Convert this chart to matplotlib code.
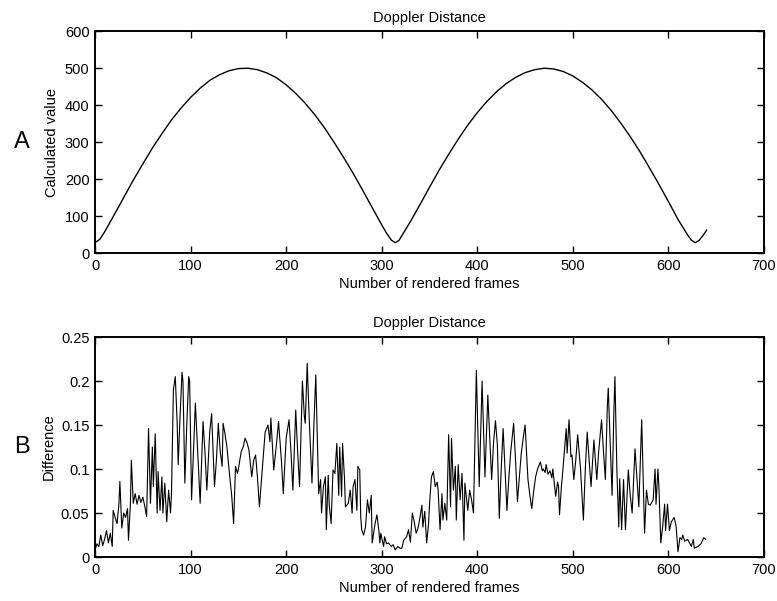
import matplotlib
matplotlib.use("Agg")
import matplotlib.pyplot as plt

plt.rcParams['font.family'] = ['Liberation Sans', 'DejaVu Sans']

# Top panel: calculated Doppler distance
frames_top = [0, 5, 10, 20, 30, 40, 50, 60, 70, 80, 90, 100, 110, 120, 130, 140,
              150, 160, 170, 180, 190, 200, 210, 220, 230, 240, 250, 260, 270,
              280, 290, 300, 305, 310, 314, 318, 322, 330, 340, 350, 360, 370,
              380, 390, 400, 410, 420, 430, 440, 450, 460, 470, 480, 490, 500,
              510, 520, 530, 540, 550, 560, 570, 580, 590, 600, 610, 615, 620,
              624, 628, 632, 636, 640]
calc_value = [28, 37, 57, 103, 150, 197, 241, 284, 323, 360, 392, 421, 446, 467,
              482, 493, 499, 500, 496, 487, 474, 455, 432, 405, 374, 339, 300,
              259, 216, 170, 123, 76, 54, 35, 28, 34, 51, 85, 131, 178, 224, 267,
              308, 346, 380, 410, 436, 458, 475, 488, 496, 500, 498, 491, 479,
              462, 441, 416, 386, 352, 315, 275, 231, 186, 139, 91, 70, 49, 35,
              28, 34, 47, 62]

# Bottom panel: difference
frames_diff = [0, 2, 4, 6, 8, 10, 12, 14, 16, 18, 19, 21, 23, 25, 26, 28, 30, 32,
               34, 35, 37, 38, 40, 42, 44, 46, 48, 50, 52, 54, 56, 58, 60, 61, 63,
               65, 66, 68, 70, 71, 73, 75, 77, 79, 80, 82, 84, 86, 87, 89, 91, 92,
               94, 96, 98, 99, 101, 103, 105, 107, 110, 113, 115, 117, 120, 122,
               125, 127, 129, 131, 133, 134, 136, 138, 141, 143, 145, 147, 149,
               150, 153, 155, 157, 159, 161, 164, 166, 168, 170, 172, 175, 178,
               181, 183, 184, 187, 190, 192, 195, 197, 200, 203, 205, 207, 210,
               212, 214, 217, 219, 220, 222, 224, 227, 229, 231, 233, 234, 236,
               237, 239, 241, 242, 244, 245, 247, 249, 251, 253, 255, 256, 258,
               259, 261, 262, 265, 267, 269, 270, 272, 274, 275, 277, 278, 279,
               281, 283, 285, 287, 289, 290, 293, 295, 297, 298, 299, 302, 303,
               305, 307, 310, 312, 314, 317, 319, 321, 323, 326, 328, 330, 332,
               334, 336, 338, 340, 342, 343, 345, 347, 349, 350, 352, 354, 356,
               358, 359, 361, 363, 364, 366, 368, 370, 372, 373, 375, 377, 378,
               380, 382, 384, 386, 387, 390, 392, 394, 396, 399, 402, 405, 408,
               411, 415, 417, 419, 421, 423, 425, 427, 429, 431, 433, 435, 438,
               440, 442, 444, 446, 448, 450, 453, 455, 457, 459, 461, 463, 466,
               468, 469, 471, 472, 474, 476, 478, 479, 482, 484, 485, 486, 488,
               490, 493, 494, 496, 498, 499, 501, 503, 505, 508, 511, 513, 515,
               517, 519, 522, 525, 527, 530, 532, 534, 536, 537, 539, 541, 543,
               544, 546, 548, 549, 551, 553, 555, 558, 560, 562, 565, 567, 569,
               572, 575, 577, 579, 581, 584, 586, 587, 589, 590, 592, 594, 596,
               597, 599, 601, 603, 606, 608, 610, 612, 614, 615, 617, 620, 624,
               626, 627, 631, 634, 637, 639]
difference = [0.008, 0.015, 0.012, 0.025, 0.013, 0.02, 0.03, 0.016, 0.027, 0.012,
              0.053, 0.045, 0.038, 0.06, 0.086, 0.033, 0.05, 0.045, 0.055, 0.019,
              0.06, 0.11, 0.061, 0.072, 0.06, 0.07, 0.062, 0.068, 0.058, 0.046,
              0.146, 0.061, 0.125, 0.08, 0.14, 0.05, 0.097, 0.053, 0.091, 0.05,
              0.084, 0.04, 0.076, 0.05, 0.072, 0.19, 0.205, 0.15, 0.105, 0.16,
              0.21, 0.2, 0.084, 0.15, 0.205, 0.2, 0.065, 0.12, 0.175, 0.13, 0.061,
              0.154, 0.12, 0.076, 0.142, 0.163, 0.08, 0.11, 0.152, 0.12, 0.103,
              0.152, 0.14, 0.125, 0.091, 0.07, 0.038, 0.103, 0.095, 0.1, 0.12,
              0.125, 0.135, 0.13, 0.122, 0.091, 0.11, 0.116, 0.09, 0.057, 0.1,
              0.142, 0.15, 0.131, 0.158, 0.099, 0.13, 0.154, 0.11, 0.072, 0.135,
              0.156, 0.12, 0.076, 0.167, 0.12, 0.08, 0.2, 0.16, 0.152, 0.22, 0.16,
              0.084, 0.15, 0.207, 0.12, 0.072, 0.088, 0.05, 0.08, 0.091, 0.031,
              0.093, 0.06, 0.038, 0.099, 0.095, 0.129, 0.07, 0.125, 0.069, 0.129,
              0.09, 0.057, 0.061, 0.076, 0.05, 0.08, 0.088, 0.053, 0.103, 0.099,
              0.046, 0.031, 0.025, 0.034, 0.065, 0.05, 0.07, 0.016, 0.038, 0.048,
              0.03, 0.016, 0.027, 0.012, 0.023, 0.015, 0.016, 0.012, 0.014, 0.008,
              0.012, 0.01, 0.01, 0.019, 0.023, 0.031, 0.017, 0.05, 0.04, 0.027,
              0.033, 0.045, 0.059, 0.034, 0.052, 0.016, 0.038, 0.06, 0.091, 0.097,
              0.08, 0.085, 0.076, 0.031, 0.072, 0.042, 0.061, 0.042, 0.139, 0.057,
              0.135, 0.076, 0.103, 0.042, 0.105, 0.065, 0.095, 0.019, 0.084,
              0.053, 0.076, 0.065, 0.05, 0.212, 0.08, 0.2, 0.091, 0.184, 0.088,
              0.13, 0.155, 0.127, 0.044, 0.1, 0.146, 0.1, 0.053, 0.09, 0.12, 0.152,
              0.11, 0.063, 0.09, 0.118, 0.135, 0.15, 0.088, 0.07, 0.055, 0.075,
              0.091, 0.1, 0.108, 0.098, 0.1, 0.096, 0.105, 0.094, 0.098, 0.09, 0.1,
              0.069, 0.085, 0.08, 0.048, 0.08, 0.105, 0.146, 0.118, 0.156, 0.114,
              0.116, 0.088, 0.11, 0.139, 0.1, 0.042, 0.1, 0.142, 0.11, 0.08, 0.133,
              0.088, 0.12, 0.156, 0.12, 0.088, 0.17, 0.192, 0.13, 0.07, 0.17,
              0.205, 0.1, 0.034, 0.089, 0.031, 0.088, 0.031, 0.099, 0.07, 0.05,
              0.123, 0.09, 0.057, 0.156, 0.027, 0.076, 0.06, 0.059, 0.065, 0.1,
              0.06, 0.1, 0.08, 0.016, 0.035, 0.06, 0.03, 0.06, 0.03, 0.04, 0.045,
              0.035, 0.006, 0.022, 0.02, 0.025, 0.018, 0.02, 0.012, 0.02, 0.01,
              0.012, 0.015, 0.022, 0.02]

x_ticks = [0, 100, 200, 300, 400, 500, 600, 700]
top_yticks = [0, 100, 200, 300, 400, 500, 600]
diff_yticks = [0, 0.05, 0.1, 0.15, 0.2, 0.25]
diff_ylabels = ['0', '0.05', '0.1', '0.15', '0.2', '0.25']


def style_axes(ax):
    ax.tick_params(direction='in', top=True, right=True, length=5, width=1,
                   labelsize=10.5, pad=4)
    for s in ax.spines.values():
        s.set_linewidth(1.4)


fig = plt.figure(figsize=(7.77, 6.01), dpi=100)

ax1 = fig.add_axes([0.1223, 0.579, 0.861, 0.369])
ax1.plot(frames_top, calc_value, color='black', linewidth=1.0)
ax1.set_xlim(0, 700)
ax1.set_ylim(0, 600)
ax1.set_xticks(x_ticks)
ax1.set_yticks(top_yticks)
ax1.set_title('Doppler Distance', fontsize=10.5, pad=7)
ax1.set_xlabel('Number of rendered frames', fontsize=10.5, labelpad=3)
ax1.set_ylabel('Calculated value', fontsize=10.5, labelpad=4)
style_axes(ax1)

ax2 = fig.add_axes([0.1223, 0.0732, 0.861, 0.366])
ax2.plot(frames_diff, difference, color='black', linewidth=0.8)
ax2.set_xlim(0, 700)
ax2.set_ylim(0, 0.25)
ax2.set_xticks(x_ticks)
ax2.set_yticks(diff_yticks)
ax2.set_yticklabels(diff_ylabels)
ax2.set_title('Doppler Distance', fontsize=10.5, pad=7)
ax2.set_xlabel('Number of rendered frames', fontsize=10.5, labelpad=3)
ax2.set_ylabel('Difference', fontsize=10.5, labelpad=4)
style_axes(ax2)

fig.text(0.028, 0.763, 'A', fontsize=17, ha='center', va='center')
fig.text(0.028, 0.256, 'B', fontsize=17, ha='center', va='center')

fig.savefig('out.png', dpi=100)
